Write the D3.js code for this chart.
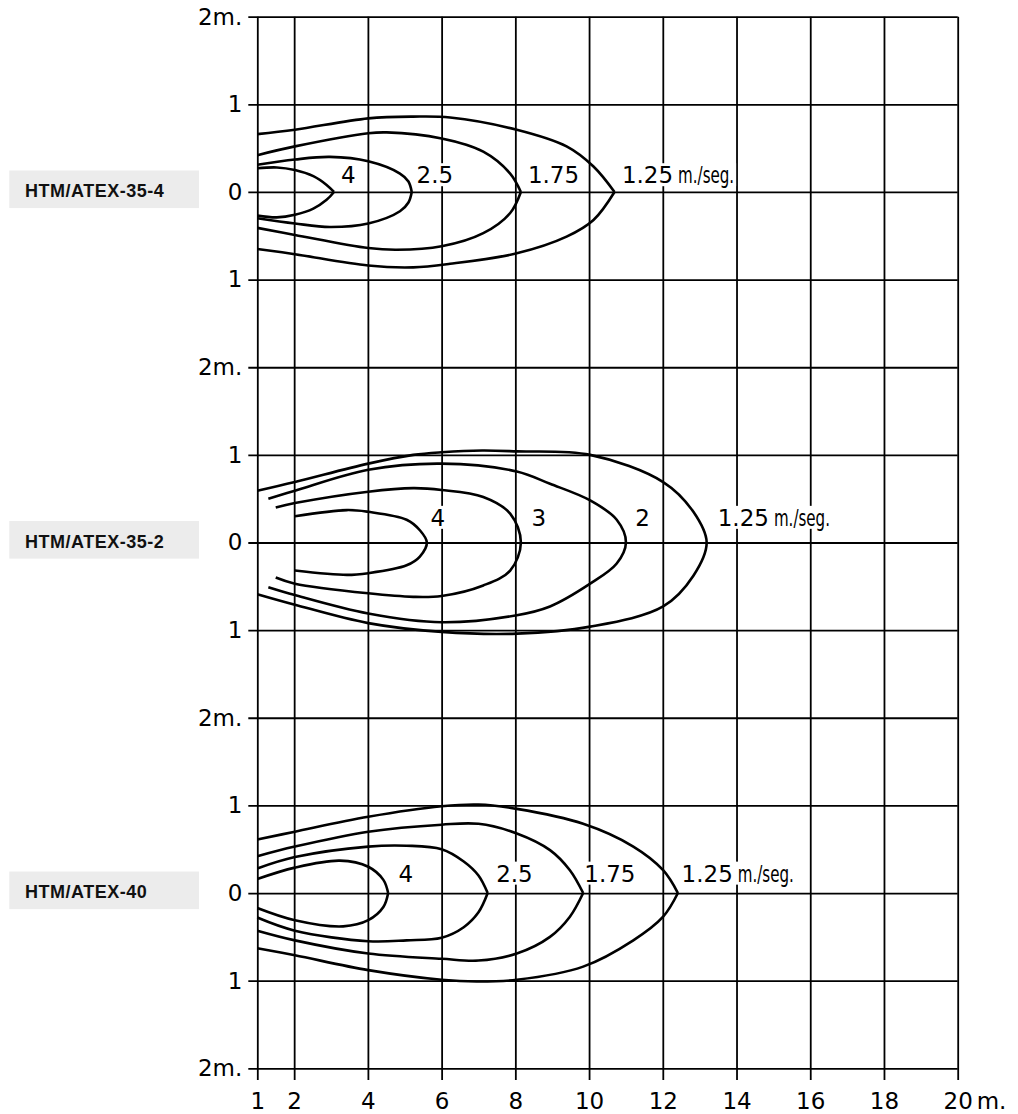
<!DOCTYPE html>
<html>
<head>
<meta charset="utf-8">
<script src="https://cdn.jsdelivr.net/npm/d3@7"></script>
<style>
    html, body { margin: 0; padding: 0; background: #fff; }
    #chart svg { display: block; }
    .grid line { stroke: #000; stroke-width: 1.8; }
    .grid text { font-family: "DejaVu Sans", sans-serif; font-size: 23px; fill: #000; }
    .curve { fill: none; stroke: #000; stroke-width: 2.6; stroke-linejoin: round; }
    .speed { font-family: "DejaVu Sans", sans-serif; font-size: 23px; fill: #000; }
    .unit { font-family: "DejaVu Sans", sans-serif; font-size: 23px; fill: #000; }
    .model-box { fill: #ececec; }
    .model-name { font-family: "Liberation Sans", Arial, sans-serif; font-weight: bold; font-size: 18px; letter-spacing: 0.5px; fill: #111; }
</style>
</head>
<body>
<div id="chart"></div>
<script>
// Axis ticks (distance in m., vertical offset over the three stacked panels)
var xTicks = [1, 2, 4, 6, 8, 10, 12, 14, 16, 18, 20];
var yTicks = [6, 5, 4, 3, 2, 1, 0, -1, -2, -3, -4, -5, -6];
var yTickLabels = ["2m.", "1", "0", "1", "2m.", "1", "0", "1", "2m.", "1", "0", "1", "2m."];

var modelNames = ["HTM/ATEX-35-4", "HTM/ATEX-35-2", "HTM/ATEX-40"];
var modelCenters = [4, 0, -4];
var modelRoundNose = [false, true, false];
var speedUnit = "m./seg.";

// Air speed curves, [distance, offset]. lx/ly = label anchor
var atex354Curves = [
    { label: "4", lx: 3.27, ly: 0.10,
      up: [[1, 0.27], [1.53, 0.28], [2.02, 0.25], [2.52, 0.18], [2.88, 0.08], [3.08, 0]],
      down: [[1, -0.27], [1.53, -0.29], [2.02, -0.26], [2.52, -0.19], [2.88, -0.09], [3.08, 0]] },
    { label: "2.5", lx: 5.32, ly: 0.10,
      up: [[1, 0.31], [2.02, 0.37], [2.97, 0.40], [4.01, 0.35], [4.87, 0.21], [5.10, 0.12], [5.19, 0]],
      down: [[1, -0.30], [2.02, -0.36], [2.97, -0.40], [4.01, -0.36], [4.87, -0.22], [5.10, -0.12], [5.19, 0]] },
    { label: "1.75", lx: 8.34, ly: 0.10,
      up: [[1, 0.42], [2.02, 0.52], [4.01, 0.67], [4.51, 0.68], [6.00, 0.61], [7.13, 0.46], [7.86, 0.21], [8.15, 0]],
      down: [[1, -0.41], [2.02, -0.49], [4.01, -0.64], [4.78, -0.66], [6.00, -0.62], [7.13, -0.47], [7.86, -0.24], [8.15, 0]] },
    { label: "1.25", lx: 10.89, ly: 0.10, unit: true,
      up: [[1, 0.66], [2.02, 0.71], [4.01, 0.84], [5.23, 0.86], [6.23, 0.85], [8.04, 0.71], [9.39, 0.52], [10.12, 0.29], [10.69, 0]],
      down: [[1, -0.65], [2.02, -0.71], [4.01, -0.84], [5.23, -0.86], [6.23, -0.82], [8.04, -0.70], [9.39, -0.51], [10.12, -0.32], [10.69, 0]] }
];

var atex352Curves = [
    { label: "4", lx: 5.70, ly: 0.19,
      up: [[2.02, 0.30], [3.43, 0.37], [4.01, 0.35], [5.05, 0.26], [5.41, 0.14], [5.60, 0]],
      down: [[2.02, -0.32], [3.43, -0.37], [4.01, -0.35], [5.05, -0.26], [5.41, -0.16], [5.60, 0]] },
    { label: "3", lx: 8.44, ly: 0.19,
      up: [[1.50, 0.40], [2.02, 0.45], [4.01, 0.58], [5.23, 0.62], [6.00, 0.60], [7.13, 0.52], [7.86, 0.33], [8.15, 0]],
      down: [[1.50, -0.40], [2.02, -0.47], [4.01, -0.58], [5.23, -0.62], [6.00, -0.61], [7.13, -0.49], [7.86, -0.32], [8.15, 0]] },
    { label: "2", lx: 11.25, ly: 0.19,
      up: [[1.30, 0.50], [2.02, 0.59], [4.01, 0.83], [6.00, 0.90], [8.04, 0.81], [8.94, 0.67], [10.03, 0.48], [10.75, 0.26], [11.00, 0]],
      down: [[1.30, -0.51], [2.02, -0.60], [4.01, -0.81], [6.00, -0.91], [8.04, -0.83], [8.94, -0.73], [10.03, -0.47], [10.75, -0.24], [11.00, 0]] },
    { label: "1.25", lx: 13.49, ly: 0.19, unit: true,
      up: [[1, 0.59], [2.02, 0.69], [4.01, 0.90], [5.23, 1.00], [6.00, 1.03], [7.10, 1.05], [8.04, 1.04], [10.03, 1.00], [12.01, 0.69], [12.83, 0.35], [13.19, 0]],
      down: [[1, -0.59], [2.02, -0.71], [4.01, -0.92], [6.00, -1.02], [8.04, -1.04], [10.03, -0.96], [12.01, -0.73], [12.83, -0.38], [13.19, 0]] }
];

var atex40Curves = [
    { label: "4", lx: 4.83, ly: 0.13,
      up: [[1, 0.16], [2.02, 0.29], [3.24, 0.37], [4.01, 0.30], [4.42, 0.15], [4.55, 0]],
      down: [[1, -0.17], [2.02, -0.31], [3.33, -0.38], [4.01, -0.31], [4.42, -0.16], [4.55, 0]] },
    { label: "2.5", lx: 7.48, ly: 0.13,
      up: [[1, 0.28], [2.02, 0.41], [4.01, 0.53], [5.05, 0.54], [6.00, 0.50], [6.60, 0.36], [7.00, 0.20], [7.25, 0]],
      down: [[1, -0.28], [2.02, -0.43], [4.01, -0.55], [5.05, -0.54], [6.00, -0.51], [6.60, -0.39], [7.00, -0.22], [7.25, 0]] },
    { label: "1.75", lx: 9.87, ly: 0.13,
      up: [[1, 0.42], [2.02, 0.53], [4.01, 0.70], [6.00, 0.78], [7.00, 0.79], [8.04, 0.68], [8.94, 0.49], [9.48, 0.26], [9.84, 0]],
      down: [[1, -0.43], [2.02, -0.54], [4.01, -0.69], [6.00, -0.75], [7.00, -0.77], [8.04, -0.69], [8.94, -0.50], [9.48, -0.27], [9.84, 0]] },
    { label: "1.25", lx: 12.51, ly: 0.13, unit: true,
      up: [[1, 0.61], [2.02, 0.70], [4.01, 0.87], [6.00, 0.99], [7.00, 1.01], [8.04, 0.96], [9.84, 0.79], [11.20, 0.53], [12.01, 0.26], [12.41, 0]],
      down: [[1, -0.63], [2.02, -0.71], [4.01, -0.88], [6.00, -0.99], [6.95, -1.01], [8.04, -0.99], [9.84, -0.84], [11.20, -0.54], [12.01, -0.27], [12.41, 0]] }
];

var modelCurves = [atex354Curves, atex352Curves, atex40Curves];

var ventChart = {};

(function (self) {
    self.width = 1018;
    self.height = 1114;

    self.init = function (target) {
        let container = document.querySelector(target);
        if (container) self.draw(container);
        else console.log('no chart container');
    };

    self.draw = function (container) {
        let svg = d3.select(container).append("svg")
            .attr("width", self.width)
            .attr("height", self.height);

        let x = d3.scaleLinear().domain([1, 20]).range([257.3, 957.7]);
        let y = d3.scaleLinear().domain([-6, 6]).range([1068.3, 16.7]);

        // horizontal grid + left labels (ticks stick out left of the axis)
        let tickLeft = 248.3;
        svg.append("g")
            .attr("class", "grid")
            .attr("transform", "translate(" + tickLeft + ",0)")
            .call(d3.axisLeft(y)
                .tickValues(yTicks)
                .tickSize(-(x.range()[1] - tickLeft))
                .tickPadding(6)
                .tickFormat((d, i) => yTickLabels[i]))
            .call(g => g.select(".domain").remove());

        // vertical grid + bottom labels (ticks stick out below)
        let tickBottom = 1080;
        svg.append("g")
            .attr("class", "grid")
            .attr("transform", "translate(0," + tickBottom + ")")
            .call(d3.axisBottom(x)
                .tickValues(xTicks)
                .tickSize(-(tickBottom - y.range()[1]))
                .tickPadding(13)
                .tickFormat(d3.format("d")))
            .call(g => g.select(".domain").remove());

        svg.append("text")
            .attr("class", "speed")
            .attr("x", x(20) + 19)
            .attr("y", tickBottom + 13)
            .attr("dy", "0.71em")
            .text("m.");

        // model name boxes
        modelNames.forEach((name, i) => {
            let cy = y(modelCenters[i]);
            svg.append("rect")
                .attr("class", "model-box")
                .attr("x", 9.3)
                .attr("y", cy - 21.5)
                .attr("width", 189.7)
                .attr("height", 37.6);
            svg.append("text")
                .attr("class", "model-name")
                .attr("x", 25)
                .attr("y", cy + 5)
                .text(name);
        });

        let bgLayer = svg.append("g").attr("class", "label-bg");
        let curveLayer = svg.append("g").attr("class", "curves");
        let labelLayer = svg.append("g").attr("class", "labels");

        modelCurves.forEach((curves, i) => {
            let c0 = modelCenters[i];
            let line = d3.line()
                .x(d => x(d[0]))
                .y(d => y(c0 + d[1]))
                .curve(d3.curveCatmullRom.alpha(0.5));

            curves.forEach(c => {
                if (modelRoundNose[i]) {
                    // one continuous path -> rounded nose
                    let pts = c.up.concat(c.down.slice(0, -1).reverse());
                    curveLayer.append("path").attr("class", "curve").attr("d", line(pts));
                } else {
                    // each side drawn to the tip so the nose stays pointed
                    curveLayer.append("path").attr("class", "curve").attr("d", line(c.up));
                    curveLayer.append("path").attr("class", "curve").attr("d", line(c.down));
                }
                self.positionLabel(labelLayer, bgLayer, c, x(c.lx), y(c0 + c.ly));
            });
        });
    };

    // Speed label with white backing so grid lines break around it
    self.positionLabel = function (layer, bg, c, px, py) {
        let t = layer.append("text")
            .attr("class", "speed")
            .attr("x", px)
            .attr("y", py)
            .text(c.label);
        let b = t.node().getBBox();
        let right = b.x + b.width;
        if (c.unit) {
            let u = layer.append("text")
                .attr("class", "unit")
                .attr("x", right + 5)
                .attr("y", py)
                .attr("textLength", 56)
                .attr("lengthAdjust", "spacingAndGlyphs")
                .text(speedUnit);
            let ub = u.node().getBBox();
            right = ub.x + ub.width;
        }
        bg.append("rect")
            .attr("x", b.x - 2)
            .attr("y", b.y + 1)
            .attr("width", right - b.x + 4)
            .attr("height", b.height - 3)
            .attr("fill", "#fff");
    };
})(ventChart);

ventChart.init('#chart');
</script>
</body>
</html>
